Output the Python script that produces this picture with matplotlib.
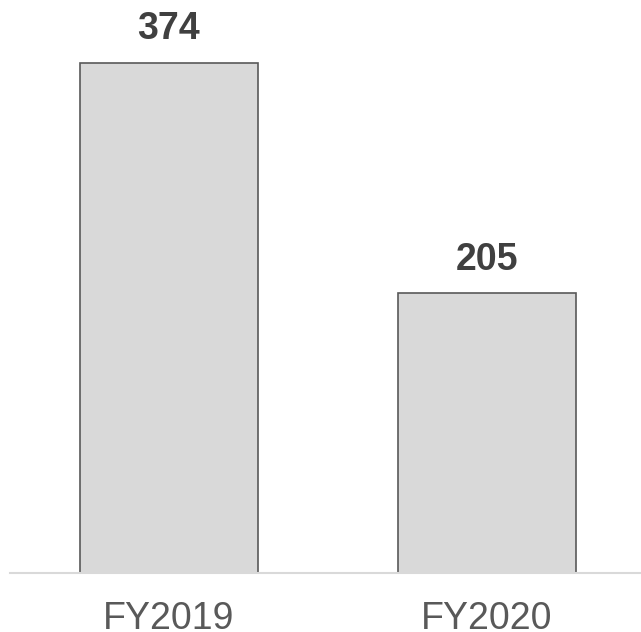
import matplotlib
matplotlib.use('Agg')
from matplotlib import pyplot as plt

categories = ['FY2019', 'FY2020']
values = [374, 205]

plt.rcParams['font.family'] = ['Liberation Sans', 'DejaVu Sans']

fig = plt.figure(figsize=(6.41, 6.32), dpi=100)
# axes from x=8px to right edge, baseline at y=573px
ax = fig.add_axes([10 / 641, 59 / 632, 631 / 641, 573 / 632])

x = list(range(len(categories)))
ax.bar(x, values, width=0.56, color='#d9d9d9', edgecolor='#595959', linewidth=1.2, zorder=2)

for xi, v in zip(x, values):
    ax.annotate(str(v), (xi, v), xytext=(0, 11), textcoords='offset points',
                ha='center', va='bottom', fontsize=27, fontweight='bold', color='#404040')

ax.set_xlim(-0.4995, 1.4849)
ax.set_ylim(0, 419.8)
ax.set_xticks(x)
ax.set_xticklabels(categories, fontsize=27, color='#595959')
ax.tick_params(axis='x', length=0, pad=20.5)
ax.set_yticks([])
for side in ['top', 'right', 'left']:
    ax.spines[side].set_visible(False)
ax.spines['bottom'].set_color('#d9d9d9')
ax.spines['bottom'].set_linewidth(1.5)
ax.spines['bottom'].set_zorder(3)

fig.savefig('out.png', dpi=100)
